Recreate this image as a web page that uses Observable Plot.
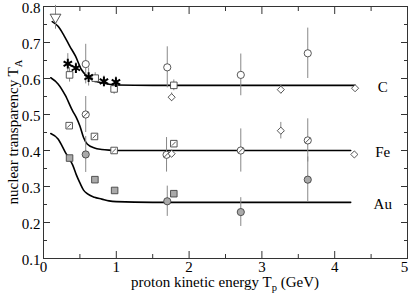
<!DOCTYPE html>
<html><head><meta charset="utf-8">
<script src="https://cdn.jsdelivr.net/npm/d3@7"></script>
<script src="https://cdn.jsdelivr.net/npm/@observablehq/plot@0.6"></script>
<style>body{margin:0;background:#fff} svg{display:block}</style>
</head><body><div id="chart"></div>
<script>
// ---- theory curves ----
const curveC_x = [0.12,0.2,0.28,0.36,0.44,0.52,0.6,0.7,0.8,0.9,1.0,1.5,2.0,3.0,4.28];
const curveC_y = [0.758,0.745,0.72,0.69,0.662,0.625,0.606,0.594,0.588,0.584,0.582,0.581,0.581,0.581,0.581];
const curveFe_x = [0.1,0.2,0.3,0.4,0.45,0.5,0.55,0.6,0.7,0.8,0.9,1.0,1.5,2.0,3.0,4.22];
const curveFe_y = [0.602,0.585,0.553,0.51,0.492,0.468,0.436,0.418,0.407,0.403,0.401,0.400,0.400,0.400,0.400,0.400];
const curveAu_x = [0.1,0.2,0.3,0.35,0.4,0.45,0.5,0.55,0.6,0.7,0.8,0.9,1.0,1.5,2.0,3.0,4.22];
const curveAu_y = [0.447,0.432,0.395,0.378,0.36,0.333,0.31,0.29,0.28,0.27,0.265,0.26,0.258,0.256,0.256,0.256,0.256];

// ---- data points (x, y, error) ----
const C_circle_x = [0.58,1.70,2.71,3.63];
const C_circle_y = [0.640,0.631,0.610,0.670];
const C_circle_e = [0.055,0.057,0.058,0.07];
const C_square_x = [0.358,0.71,0.97,1.79];
const C_square_y = [0.610,0.601,0.571,0.581];
const C_square_e = [0.02,0.015,0.015,0.015];
const C_star_x = [0.334,0.445,0.62,0.83,0.995];
const C_star_y = [0.641,0.629,0.604,0.592,0.590];
const C_star_e = [0.028,0.015,0.025,0.015,0.015];
const C_diamond_x = [1.76,3.26,4.28];
const C_diamond_y = [0.548,0.569,0.573];
const C_diamond_e = [0.012,0.012,0.008];
const C_tri_x = [0.165];
const C_tri_y = [0.770];
const C_tri_e = [0.033];

const Fe_circle_x = [0.58,1.69,2.71,3.63];
const Fe_circle_y = [0.50,0.388,0.40,0.428];
const Fe_circle_e = [0.05,0.048,0.06,0.06];
const Fe_square_x = [0.353,0.70,0.97,1.79];
const Fe_square_y = [0.469,0.439,0.40,0.419];
const Fe_diamond_x = [1.76,3.26,4.27];
const Fe_diamond_y = [0.391,0.455,0.389];
const Fe_diamond_e = [0.01,0.023,0.008];

const Au_circle_x = [0.58,1.70,2.71,3.63];
const Au_circle_y = [0.389,0.259,0.229,0.319];
const Au_circle_e = [0.05,0.042,0.04,0.063];
const Au_square_x = [0.358,0.706,0.977,1.79];
const Au_square_y = [0.379,0.319,0.289,0.280];

const seriesLabels = ["C","Fe","Au"];
const xMajor = [0,1,2,3,4,5];
const xMinor = [0.5,1.5,2.5,3.5,4.5];
const yMajor = [0.1,0.2,0.3,0.4,0.5,0.6,0.7,0.8];
const yMinor = [0.15,0.25,0.35,0.45,0.55,0.65,0.75];

const zip = (xs, ys, es) => xs.map((x,i) => ({x, y: ys[i], e: es ? es[i] : 0}));
const curves = [
  zip(curveC_x, curveC_y), zip(curveFe_x, curveFe_y), zip(curveAu_x, curveAu_y)
];
const labelData = seriesLabels.map((s,i) => ({s, y: curves[i][curves[i].length-1].y}));

const errs = [
  zip(C_circle_x,C_circle_y,C_circle_e), zip(C_square_x,C_square_y,C_square_e),
  zip(C_star_x,C_star_y,C_star_e), zip(C_diamond_x,C_diamond_y,C_diamond_e),
  zip(C_tri_x,C_tri_y,C_tri_e), zip(Fe_circle_x,Fe_circle_y,Fe_circle_e),
  zip(Fe_diamond_x,Fe_diamond_y,Fe_diamond_e), zip(Au_circle_x,Au_circle_y,Au_circle_e)
].flat().filter(d => d.e > 0);

const circleSlash = {draw(ctx, size){ const r=Math.sqrt(size/Math.PI); ctx.moveTo(r,0); ctx.arc(0,0,r,0,2*Math.PI); const d=r*0.7; ctx.moveTo(-d,d); ctx.lineTo(d,-d); }};
const squareSlash = {draw(ctx, size){ const s=Math.sqrt(size)/2; ctx.moveTo(-s,-s); ctx.lineTo(s,-s); ctx.lineTo(s,s); ctx.lineTo(-s,s); ctx.closePath(); const d=s*0.6; ctx.moveTo(-d,d); ctx.lineTo(d,-d); }};
const circleDot = {draw(ctx, size){ const r=Math.sqrt(size/Math.PI); ctx.moveTo(r,0); ctx.arc(0,0,r,0,2*Math.PI); }};

const font = "Liberation Serif, Times New Roman, serif";
const ms = "#444";
const xLast = xMajor[xMajor.length-1];

const plot = Plot.plot({
  width: 409, height: 297,
  marginLeft: 43, marginRight: 2, marginTop: 6, marginBottom: 39,
  style: {fontFamily: font, fontSize: "15px", color: "#000", background: "#fff"},
  x: {domain: [0,5]},
  y: {domain: [0.1,0.8]},
  marks: [
    Plot.frame({stroke: "#333"}),
    Plot.axisX({ticks: xMajor.slice(0,-1), tickSize: 0, tickPadding: 3, tickFormat: d3.format("d"), label: null, fontSize: 15}),
    Plot.axisX({ticks: [xLast], tickSize: 0, tickPadding: 3, tickFormat: d3.format("d"), label: null, fontSize: 15, dx: -3}),
    Plot.axisX({ticks: xMajor, tickSize: -7, text: null, label: null, stroke: "#333"}),
    Plot.axisX({ticks: xMinor, tickSize: -4, text: null, label: null, stroke: "#333"}),
    Plot.axisX({anchor: "top", ticks: xMajor, tickSize: -7, text: null, label: null, stroke: "#333"}),
    Plot.axisX({anchor: "top", ticks: xMinor, tickSize: -4, text: null, label: null, stroke: "#333"}),
    Plot.axisY({ticks: yMajor, tickSize: 0, tickPadding: 3, tickFormat: d3.format(".1f"), label: null, fontSize: 15, dy: 1.5}),
    Plot.axisY({ticks: yMajor, tickSize: -7, text: null, label: null, stroke: "#333"}),
    Plot.axisY({ticks: yMinor, tickSize: -4, text: null, label: null, stroke: "#333"}),
    Plot.axisY({anchor: "right", ticks: yMajor, tickSize: -7, text: null, label: null, stroke: "#333"}),
    Plot.axisY({anchor: "right", ticks: yMinor, tickSize: -4, text: null, label: null, stroke: "#333"}),
    ...curves.map(c => Plot.line(c, {x: "x", y: "y", curve: "monotone-x", stroke: "#000", strokeWidth: 1.6})),
    Plot.ruleX(errs, {x: "x", y1: d => d.y - d.e, y2: d => d.y + d.e, stroke: "#888", strokeWidth: 1}),
    // C
    Plot.dot(zip(C_circle_x,C_circle_y), {x:"x", y:"y", symbol:"circle", r:3.6, fill:"#fff", stroke:ms, strokeWidth:0.9}),
    Plot.dot(zip(C_square_x,C_square_y), {x:"x", y:"y", symbol:"square", r:3.7, fill:"#fff", stroke:ms, strokeWidth:0.9}),
    Plot.dot(zip(C_diamond_x,C_diamond_y), {x:"x", y:"y", symbol:"diamond2", r:3.2, fill:"#fff", stroke:ms, strokeWidth:0.9}),
    Plot.dot(zip(C_tri_x,C_tri_y), {x:"x", y:"y", symbol:"triangle", rotate:180, r:4, fill:"#fff", stroke:ms, strokeWidth:0.9}),
    Plot.dot(zip(C_star_x,C_star_y), {x:"x", y:"y", symbol:"asterisk", r:4.6, stroke:"#000", strokeWidth:2}),
    // Fe
    Plot.dot(zip(Fe_circle_x,Fe_circle_y), {x:"x", y:"y", symbol:circleSlash, r:3.6, fill:"#fff", stroke:ms, strokeWidth:0.9}),
    Plot.dot(zip(Fe_square_x,Fe_square_y), {x:"x", y:"y", symbol:squareSlash, r:3.7, fill:"#fff", stroke:ms, strokeWidth:0.9}),
    Plot.dot(zip(Fe_diamond_x,Fe_diamond_y), {x:"x", y:"y", symbol:"diamond2", r:3.2, fill:"#fff", stroke:ms, strokeWidth:0.9}),
    // Au
    Plot.dot(zip(Au_circle_x,Au_circle_y), {x:"x", y:"y", symbol:circleDot, r:3.6, fill:"#aaa", stroke:ms, strokeWidth:0.9}),
    Plot.dot(zip(Au_square_x,Au_square_y), {x:"x", y:"y", symbol:"square", r:3.7, fill:"#aaa", stroke:ms, strokeWidth:0.9}),
    Plot.text(labelData, {x: () => 4.66, y: "y", text: "s", dy: 2, fontSize: 15, fill: "#000"})
  ]
});

const svg = d3.select(plot);
const xl = svg.append("text").attr("x", 225).attr("y", 287).attr("text-anchor", "middle")
  .attr("font-family", font).attr("font-size", 15).attr("fill", "#000");
xl.append("tspan").text("proton kinetic energy T");
xl.append("tspan").attr("font-size", 10.5).attr("dy", 4).text("p");
xl.append("tspan").attr("dy", -4).text(" (GeV)");
const yl = svg.append("text").attr("transform", "translate(18,132) rotate(-90)").attr("text-anchor", "middle")
  .attr("font-family", font).attr("font-size", 15).attr("fill", "#000");
yl.append("tspan").text("nuclear transparency T");
yl.append("tspan").attr("font-size", 10.5).attr("dy", 4).text("A");

document.getElementById("chart").appendChild(plot);
</script>
</body></html>
